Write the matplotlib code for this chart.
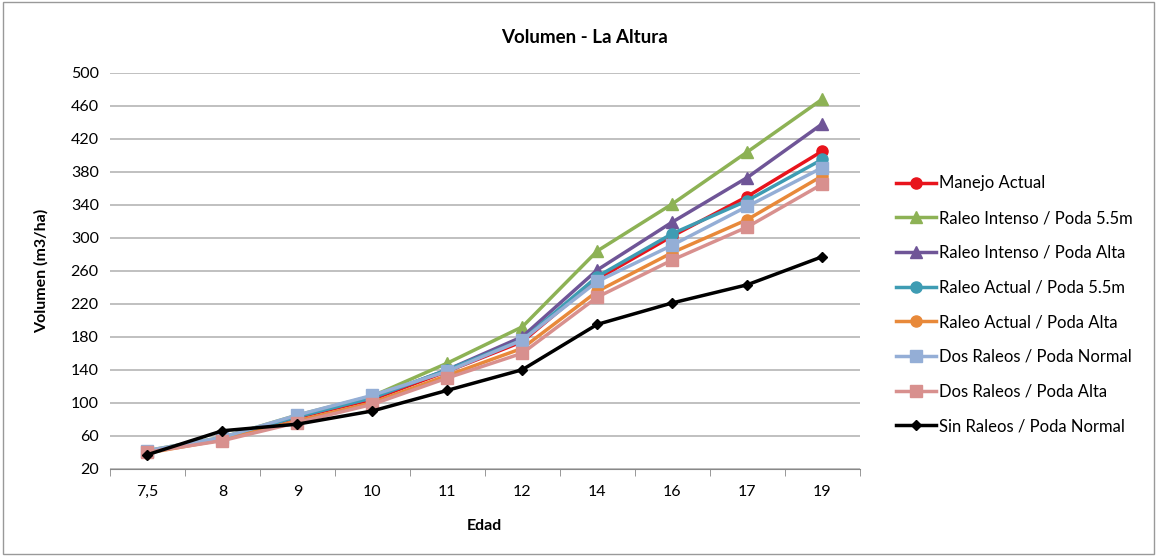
import matplotlib.pyplot as plt
from matplotlib.ticker import FixedLocator

plt.rcParams['font.family'] = ['Lato', 'DejaVu Sans']

# Edad (categorías del eje x)
edades = ['7,5', '8', '9', '10', '11', '12', '14', '16', '17', '19']

manejo_actual = [40, 57, 82, 104, 138, 174, 250, 302, 350, 405]
raleo_int_55 = [42, 58, 85, 108, 148, 192, 284, 341, 404, 468]
raleo_int_alta = [41, 57, 84, 106, 140, 180, 261, 319, 373, 438]
raleo_act_55 = [41, 57, 83, 106, 140, 176, 253, 305, 345, 395]
raleo_act_alta = [39, 55, 78, 100, 133, 166, 235, 282, 322, 375]
dos_raleos_normal = [42, 58, 85, 109, 138, 176, 247, 291, 338, 385]
dos_raleos_alta = [40, 54, 76, 98, 130, 160, 228, 273, 313, 365]
sin_raleos_normal = [37, 66, 74, 90, 115, 140, 195, 221, 243, 277]

series = [
    ('Manejo Actual', manejo_actual, '#E8141C', 'o', 8),
    ('Raleo Intenso / Poda 5.5m', raleo_int_55, '#8DB255', '^', 9),
    ('Raleo Intenso / Poda Alta', raleo_int_alta, '#6F5597', '^', 9),
    ('Raleo Actual / Poda 5.5m', raleo_act_55, '#3E9CB3', 'o', 8),
    ('Raleo Actual / Poda Alta', raleo_act_alta, '#E8893A', 'o', 8),
    ('Dos Raleos / Poda Normal', dos_raleos_normal, '#94AED6', 's', 9),
    ('Dos Raleos / Poda Alta', dos_raleos_alta, '#D8908E', 's', 9),
    ('Sin Raleos / Poda Normal', sin_raleos_normal, '#000000', 'D', 5),
]

fig = plt.figure(figsize=(11.57, 5.56), dpi=100)
ax = fig.add_axes([0.095, 0.157, 0.648, 0.712])

x = list(range(len(edades)))
for label, vals, color, marker, ms in series:
    ax.plot(x, vals, color=color, marker=marker, markersize=ms,
            linewidth=2.5, label=label)

ax.set_xlim(-0.5, len(edades) - 0.5)
ax.set_ylim(20, 500)
ax.set_yticks(range(20, 501, 40))
ax.set_xticks(x)
ax.set_xticklabels(edades)
ax.xaxis.set_minor_locator(FixedLocator([i - 0.5 for i in range(len(edades) + 1)]))
ax.tick_params(axis='x', which='major', length=0, pad=12, labelsize=11.5)
ax.tick_params(axis='x', which='minor', length=5, color='#888888')
ax.tick_params(axis='y', length=0, labelsize=11.5, pad=8)

ax.grid(axis='y', color='#BBBBBB', linewidth=1.3)
ax.set_axisbelow(True)
for s in ['top', 'right', 'left']:
    ax.spines[s].set_visible(False)
ax.spines['bottom'].set_color('#888888')

fig.text(0.505, 0.933, 'Volumen - La Altura', fontsize=13.5, fontweight='bold',
         ha='center', va='center')
ax.set_xlabel('Edad', fontsize=11.5, fontweight='bold', labelpad=14)
ax.set_ylabel('Volumen (m3/ha)', fontsize=11.5, fontweight='bold', labelpad=16)

ax.legend(loc='center left', bbox_to_anchor=(1.04, 0.414), frameon=False,
          fontsize=12, labelspacing=1.12, handlelength=2.4,
          handletextpad=0.15, borderaxespad=0)

# borde de la figura
fig.patches.append(plt.Rectangle((0.003, 0.003), 0.994, 0.994, transform=fig.transFigure,
                                 fill=False, edgecolor='#999999', linewidth=1))

fig.savefig('out.png', dpi=100)
